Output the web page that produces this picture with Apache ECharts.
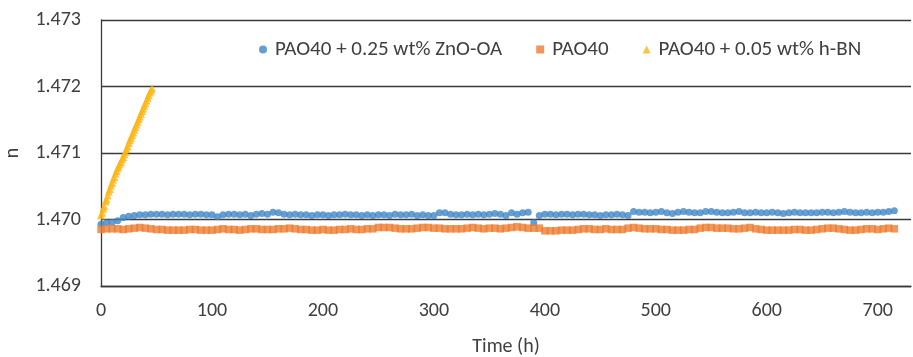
<!DOCTYPE html>
<html>
<head>
<meta charset="utf-8">
<script src="https://cdn.jsdelivr.net/npm/echarts@6/dist/echarts.min.js"></script>
<style>
html,body{margin:0;padding:0;background:#fff;}
#chart{width:913px;height:357px;}
</style>
</head>
<body>
<div id="chart"></div>
<script>
// Time (h) for the blue/orange series: every 5 h
const timeLong = [
  0,5,10,15,20,25,30,35,40,45,
  50,55,60,65,70,75,80,85,90,95,
  100,105,110,115,120,125,130,135,140,145,
  150,155,160,165,170,175,180,185,190,195,
  200,205,210,215,220,225,230,235,240,245,
  250,255,260,265,270,275,280,285,290,295,
  300,305,310,315,320,325,330,335,340,345,
  350,355,360,365,370,375,380,385,390,395,
  400,405,410,415,420,425,430,435,440,445,
  450,455,460,465,470,475,480,485,490,495,
  500,505,510,515,520,525,530,535,540,545,
  550,555,560,565,570,575,580,585,590,595,
  600,605,610,615,620,625,630,635,640,645,
  650,655,660,665,670,675,680,685,690,695,
  700,705,710,715
];
// PAO40 + 0.25 wt% ZnO-OA
const znoOA = [
  1.46993,1.46995,1.46996,1.46998,1.47003,1.47005,1.47006,1.47007,1.47007,1.47008,
  1.47008,1.47008,1.47007,1.47008,1.47008,1.47008,1.47007,1.47008,1.47008,1.47007,
  1.47007,1.47004,1.47007,1.47008,1.47008,1.47007,1.47008,1.47006,1.47008,1.47009,
  1.47008,1.47011,1.47010,1.47008,1.47007,1.47008,1.47007,1.47007,1.47006,1.47007,
  1.47007,1.47006,1.47007,1.47007,1.47008,1.47007,1.47007,1.47006,1.47007,1.47006,
  1.47007,1.47007,1.47006,1.47008,1.47007,1.47007,1.47008,1.47006,1.47007,1.47006,
  1.47006,1.47010,1.47010,1.47008,1.47007,1.47007,1.47008,1.47007,1.47008,1.47007,
  1.47008,1.47009,1.47008,1.47006,1.47010,1.47008,1.47010,1.47011,1.46995,1.47006,
  1.47008,1.47008,1.47007,1.47008,1.47008,1.47007,1.47008,1.47008,1.47007,1.47007,
  1.47006,1.47007,1.47007,1.47008,1.47007,1.47006,1.47012,1.47011,1.47011,1.47010,
  1.47011,1.47012,1.47010,1.47009,1.47011,1.47012,1.47011,1.47010,1.47010,1.47012,
  1.47012,1.47011,1.47010,1.47010,1.47011,1.47012,1.47010,1.47010,1.47011,1.47010,
  1.47010,1.47011,1.47010,1.47009,1.47010,1.47011,1.47010,1.47010,1.47010,1.47010,
  1.47011,1.47011,1.47010,1.47011,1.47012,1.47011,1.47010,1.47010,1.47011,1.47010,
  1.47011,1.47011,1.47012,1.47013
];
// PAO40
const pao40 = [
  1.46985,1.46986,1.46986,1.46986,1.46985,1.46986,1.46987,1.46988,1.46987,1.46986,
  1.46985,1.46985,1.46984,1.46984,1.46984,1.46984,1.46985,1.46985,1.46984,1.46984,
  1.46984,1.46985,1.46986,1.46985,1.46985,1.46984,1.46985,1.46986,1.46986,1.46985,
  1.46985,1.46985,1.46986,1.46986,1.46987,1.46986,1.46985,1.46985,1.46984,1.46984,
  1.46985,1.46984,1.46984,1.46985,1.46985,1.46986,1.46985,1.46985,1.46986,1.46986,
  1.46988,1.46988,1.46988,1.46987,1.46986,1.46986,1.46986,1.46987,1.46988,1.46988,
  1.46987,1.46987,1.46986,1.46986,1.46986,1.46986,1.46987,1.46988,1.46987,1.46986,
  1.46987,1.46987,1.46986,1.46987,1.46988,1.46989,1.46988,1.46987,1.46987,1.46987,
  1.46983,1.46983,1.46983,1.46984,1.46984,1.46984,1.46985,1.46986,1.46986,1.46985,
  1.46985,1.46986,1.46985,1.46985,1.46985,1.46987,1.46988,1.46987,1.46986,1.46986,
  1.46986,1.46985,1.46985,1.46984,1.46984,1.46984,1.46985,1.46985,1.46987,1.46988,
  1.46988,1.46987,1.46987,1.46987,1.46986,1.46986,1.46987,1.46988,1.46986,1.46985,
  1.46984,1.46984,1.46984,1.46984,1.46984,1.46985,1.46985,1.46984,1.46984,1.46985,
  1.46986,1.46987,1.46987,1.46986,1.46985,1.46984,1.46984,1.46985,1.46986,1.46986,
  1.46985,1.46986,1.46987,1.46986
];
// Time (h) for the h-BN series: every 1 h
const timeShort = [
  0,1,2,3,4,5,6,7,8,9,10,11,12,13,14,15,16,17,18,19,20,21,22,23,
  24,25,26,27,28,29,30,31,32,33,34,35,36,37,38,39,40,41,42,43,44,45,46
];
// PAO40 + 0.05 wt% h-BN
const hBN = [
  1.47006,1.47010,1.47016,1.47020,1.47027,1.47030,1.47036,1.47042,1.47046,1.47051,
  1.47055,1.47060,1.47064,1.47069,1.47073,1.47077,1.47080,1.47084,1.47087,1.47091,
  1.47094,1.47098,1.47102,1.47106,1.47110,1.47115,1.47119,1.47123,1.47127,1.47131,
  1.47135,1.47139,1.47143,1.47147,1.47151,1.47155,1.47159,1.47163,1.47167,1.47171,
  1.47175,1.47179,1.47183,1.47187,1.47191,1.47194,1.47197
];
const xTicks = { min: 0, max: 730, interval: 100 };
const yTicks = { min: 1.469, max: 1.473, interval: 0.001 };
const seriesNames = ['PAO40 + 0.25 wt% ZnO-OA', 'PAO40', 'PAO40 + 0.05 wt% h-BN'];

const FONT = 'Carlito, Lato, sans-serif';
const TXT = '#404040';
const pair = (xs, ys) => xs.map((x, i) => [x, ys[i]]);

const chart = echarts.init(document.getElementById('chart'), null, { renderer: 'canvas' });
chart.setOption({
  animation: false,
  backgroundColor: '#fff',
  textStyle: { fontFamily: FONT },
  grid: { left: 101, right: 2, top: 20, bottom: 71, containLabel: false, outerBoundsMode: 'none' },
  legend: {
    left: 254, top: 34,
    itemWidth: 8, itemHeight: 8, itemGap: 34,
    textStyle: { fontFamily: FONT, fontSize: 21, color: TXT, padding: [0, 0, 0, 3] },
    data: [
      { name: seriesNames[0], icon: 'circle' },
      { name: seriesNames[1], icon: 'rect' },
      { name: seriesNames[2], icon: 'triangle' }
    ]
  },
  xAxis: {
    type: 'value', min: xTicks.min, max: xTicks.max, interval: xTicks.interval,
    name: 'Time (h)', nameLocation: 'middle', nameGap: 51,
    nameTextStyle: { fontFamily: FONT, fontSize: 20, color: TXT },
    axisLine: { show: true, onZero: false, lineStyle: { color: '#3a3a3a', width: 1.3 } },
    axisTick: { show: false },
    axisLabel: { showMaxLabel: false, margin: 15, fontFamily: FONT, fontSize: 20, color: TXT },
    splitLine: { show: false }
  },
  yAxis: {
    type: 'value', min: yTicks.min, max: yTicks.max, interval: yTicks.interval,
    name: 'n', nameLocation: 'middle', nameGap: 78, nameRotate: 90,
    nameTextStyle: { fontFamily: FONT, fontSize: 20, color: TXT },
    axisLine: { show: true, lineStyle: { color: '#3a3a3a', width: 1.3 } },
    axisTick: { show: false },
    axisLabel: { margin: 20, fontFamily: FONT, fontSize: 20, color: TXT,
      formatter: v => v.toFixed(3) },
    splitLine: { show: true, lineStyle: { color: '#3a3a3a', width: 1.3 } }
  },
  series: [
    { name: seriesNames[0], type: 'scatter', symbol: 'circle', symbolSize: 7,
      itemStyle: { color: '#3F86C7' }, data: pair(timeLong, znoOA) },
    { name: seriesNames[1], type: 'scatter', symbol: 'rect', symbolSize: 7.5,
      itemStyle: { color: '#ED7D31' }, data: pair(timeLong, pao40) },
    { name: seriesNames[2], type: 'scatter', symbol: 'triangle', symbolSize: 8,
      itemStyle: { color: '#FDB515' }, data: pair(timeShort, hBN) }
  ]
});
</script>
</body>
</html>
